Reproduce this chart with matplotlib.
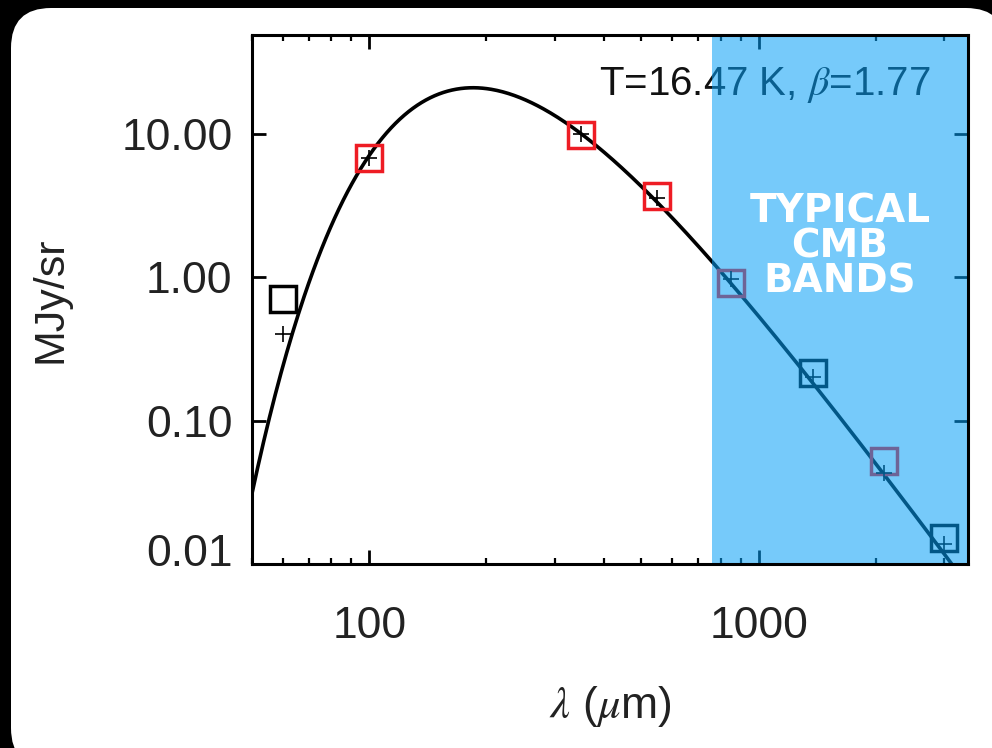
import numpy as np
import matplotlib
matplotlib.use('Agg')
import matplotlib.pyplot as plt
from matplotlib.patches import FancyBboxPatch
from matplotlib.ticker import FixedLocator, LogLocator, NullFormatter, NullLocator, FuncFormatter
from matplotlib.transforms import ScaledTranslation

plt.rcParams['font.family'] = ['Liberation Sans', 'DejaVu Sans']
plt.rcParams['mathtext.fontset'] = 'stix'

# band measurements (wavelength in micron, brightness in MJy/sr)
bands_um = [60, 100, 350, 550, 850, 1380, 2100, 3000]
observed = [0.71, 6.8, 9.9, 3.67, 0.91, 0.216, 0.0525, 0.0152]
model_in_band = [0.40, 6.75, 10.0, 3.6, 0.98, 0.202, 0.043, 0.0137]
square_colors = ['black', '#ee1c24', '#ee1c24', '#ee1c24', '#ee1c24', 'black', '#ee1c24', 'black']

# modified blackbody fit
T_dust = 16.47
beta = 1.77
curve_peak = 21.0

cmb_band_start = 760

xtick_vals = [100, 1000]
ytick_vals = [0.01, 0.1, 1.0, 10.0]

h = 6.62607e-34
k = 1.380649e-23
c = 2.99792458e8


def mbb(lam_um):
    nu = c / (lam_um * 1e-6)
    return nu ** (3 + beta) / np.expm1(h * nu / (k * T_dust))


lam = np.logspace(np.log10(50), np.log10(3600), 500)
flux = mbb(lam)
flux = flux / flux.max() * curve_peak

fig = plt.figure(figsize=(9.92, 7.48), dpi=100, facecolor='black')

# white rounded card behind everything
panel = FancyBboxPatch((0.11, -0.2), 9.95, 7.6, boxstyle='round,pad=0,rounding_size=0.4',
                       transform=fig.dpi_scale_trans, facecolor='white', edgecolor='none', zorder=-10)
fig.patches.append(panel)

ax = fig.add_axes([252 / 992, 1 - 564 / 748, (968 - 252) / 992, (564 - 35) / 748])
ax.set_xscale('log')
ax.set_yscale('log')
ax.set_xlim(50, 3450)
ax.set_ylim(0.01, 49)

ax.plot(lam, flux, color='black', lw=2.6, zorder=2)

for x, y, col in zip(bands_um, observed, square_colors):
    ax.plot(x, y, marker='s', ms=19, mfc='none', mec=col, mew=2.5, ls='none', zorder=2)
ax.plot(bands_um, model_in_band, marker='+', ms=12, mew=1.2, color='black', ls='none', zorder=2)

ax.text(0.485, 0.905, r'T=16.47 K, $\beta$=1.77', transform=ax.transAxes, fontsize=29,
        color='#111111', ha='left', va='center', zorder=2)

# shaded CMB bands sit on top of the curve but under the frame
ax.axvspan(cmb_band_start, 5000, color=(5 / 255, 160 / 255, 247 / 255), alpha=0.55, lw=0, zorder=2.2)
ax.text(0.821, 0.6, 'TYPICAL\nCMB\nBANDS', transform=ax.transAxes, ha='center', va='center',
        color='white', fontsize=28, fontfamily='DejaVu Sans', fontweight='heavy',
        linespacing=0.9, zorder=3)

ax.set_axisbelow(True)
for sp in ax.spines.values():
    sp.set_linewidth(2.2)
    sp.set_color('black')

ax.xaxis.set_major_locator(FixedLocator(xtick_vals))
ax.xaxis.set_major_formatter(FuncFormatter(lambda v, p: '%d' % v))
ax.xaxis.set_minor_locator(LogLocator(base=10, subs=np.arange(2, 10)))
ax.xaxis.set_minor_formatter(NullFormatter())
ax.yaxis.set_major_locator(FixedLocator(ytick_vals))
ax.yaxis.set_major_formatter(FuncFormatter(lambda v, p: '%.2f' % v))
ax.yaxis.set_minor_locator(NullLocator())

ax.tick_params(which='both', direction='in', top=True, right=True, color='black')
ax.tick_params(which='major', length=10, width=2.0, labelsize=32, labelcolor='#222222')
ax.tick_params(which='minor', length=4, width=1.6)
ax.tick_params(axis='x', which='major', pad=30)
ax.tick_params(axis='y', which='major', pad=14)

ax.set_xlabel(r'$\lambda$ ($\mu$m)', fontsize=32, color='#222222')
ax.xaxis.set_label_coords(0.5, -0.27)
ax.xaxis.label.set_va('center')
ax.set_ylabel('MJy/sr', fontsize=31, color='#222222')
ax.yaxis.set_label_coords((50 - 252) / 716, 0.5)
ax.yaxis.label.set_va('center')

fig.canvas.draw()
bottom_tick = ax.yaxis.get_major_ticks()[0]
bottom_tick.label1.set_transform(bottom_tick.label1.get_transform() +
                                 ScaledTranslation(0, 10 / 72, fig.dpi_scale_trans))

fig.savefig('out.png', dpi=100, facecolor='black')
